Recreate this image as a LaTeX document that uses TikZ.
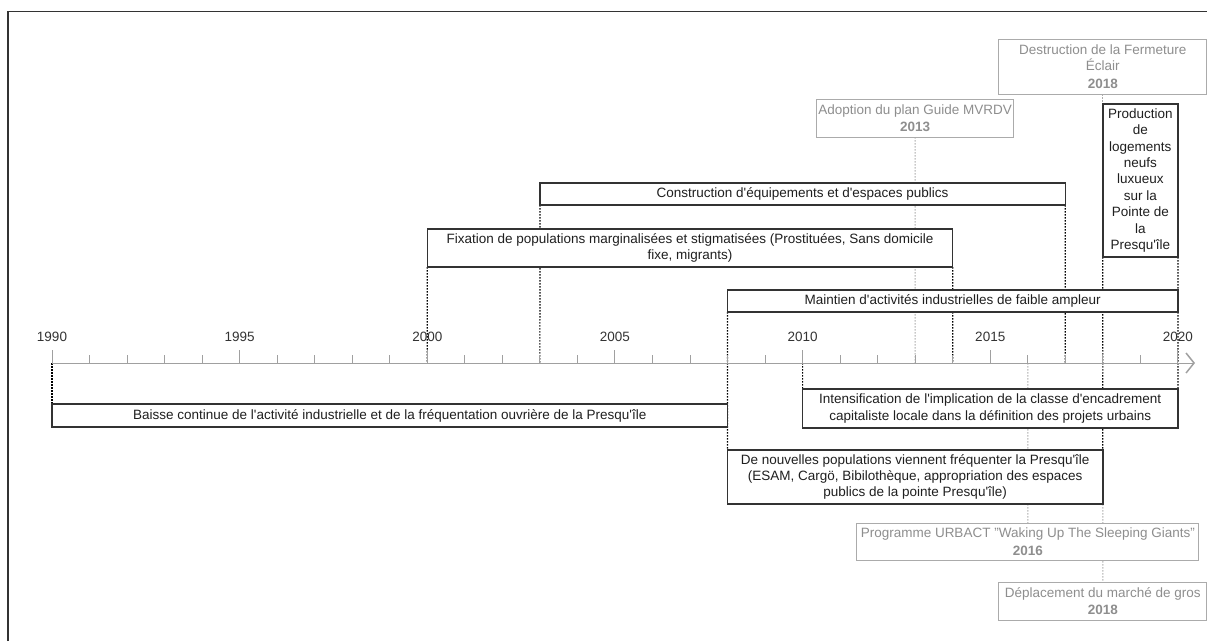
\documentclass[tikz,border=0pt]{standalone}
\usepackage{fontspec}
\setmainfont{Liberation Sans}
\usetikzlibrary{arrows.meta,backgrounds}
\definecolor{boxline}{HTML}{333333}
\definecolor{mileline}{HTML}{ABABAB}
\definecolor{miletext}{HTML}{8E8E8E}
\definecolor{axisgray}{HTML}{A0A0A0}
\newcommand\ap{\textquotesingle}

\begin{document}
\begin{tikzpicture}[x=1pt, y=-1pt,
    every node/.style={font=\fontsize{13.5}{16.4}\selectfont, inner sep=0pt, outer sep=0pt},
    period/.style={draw=boxline, line width=1.5pt, fill=white, align=center, text=black!88},
    milestone/.style={draw=mileline, line width=1pt, fill=white, align=center, text=miletext},
    tie/.style={black, line width=1.2pt, dash pattern=on 1.5pt off 1.5pt},
    greytie/.style={tie, draw=mileline, line width=1pt},
    axtick/.style={axisgray, line width=1pt},
    yearlbl/.style={text=black!80}]

    \useasboundingbox (0,0) rectangle (1207,641);

    % Frame
    \draw[boxline, line width=1.5pt] (8,641) -- (8,11.5) -- (1207,11.5);

    % Axis
    \foreach \y in {1990,...,2020}
        \coordinate (t\y) at ({52+37.53*(\y-1990)},363);
    \coordinate (axisend) at (1195,363);
    \draw[axisgray, line width=1pt, -{Straight Barb[length=8pt,width=20pt,line width=1.5pt]}] (t1990) -- (axisend);

    % Ticks and years
    \foreach \y in {1991,...,2019} \draw[axtick] (t\y) -- ++(0,-8);
    \foreach \y in {1990,1995,...,2020} {
        \draw[axtick] (t\y) -- ++(0,-13);
        \node[yearlbl] (lab\y) at ({52+37.53*(\y-1990)},337) {\y};
    }

    % Periods
    \node[period, minimum width=525.4pt, minimum height=22pt] (constr) at (802.6,194)
        {Construction d\ap{}équipements et d\ap{}espaces publics};
    \node[period, minimum width=525.4pt, minimum height=38pt] (fix) at (690,248)
        {Fixation de populations marginalisées et stigmatisées (Prostituées, Sans domicile\\fixe, migrants)};
    \node[period, minimum width=450.4pt, minimum height=22pt] (maint) at (952.7,301)
        {Maintien d\ap{}activités industrielles de faible ampleur};
    \node[period, minimum width=75.1pt, minimum height=153pt] (prod) at (1140.35,180.5)
        {Production\\de\\logements\\neufs\\luxueux\\sur la\\Pointe de\\la\\Presqu\ap{}île};
    \node[period, minimum width=675.5pt, minimum height=23pt] (baisse) at (389.75,415.5)
        {Baisse continue de l\ap{}activité industrielle et de la fréquentation ouvrière de la Presqu\ap{}île};
    \node[period, minimum width=375.3pt, minimum height=39pt] (intens) at (990.25,408.5)
        {Intensification de l\ap{}implication de la classe d\ap{}encadrement\\capitaliste locale dans la définition des projets urbains};
    \node[period, minimum width=375.3pt, minimum height=54pt] (nouv) at (915.15,477)
        {De nouvelles populations viennent fréquenter la Presqu\ap{}île\\(ESAM, Cargö, Bibilothèque, appropriation des espaces\\publics de la pointe Presqu\ap{}île)};

    % Milestones
    \node[milestone, minimum width=197pt, minimum height=38pt] (adopt) at (915.2,118)
        {Adoption du plan Guide MVRDV\\[1pt]\textbf{2013}};
    \node[milestone, minimum width=208pt, minimum height=55pt] (destr) at (1102.8,66.5)
        {Destruction de la Fermeture\\Éclair\\[1pt]\textbf{2018}};
    \node[milestone, minimum width=342pt, minimum height=37pt] (urbact) at (1027.8,541.5)
        {Programme URBACT "Waking Up The Sleeping Giants"\\[1pt]\textbf{2016}};
    \node[milestone, minimum width=208pt, minimum height=38pt] (deplac) at (1102.8,601)
        {Déplacement du marché de gros\\[1pt]\textbf{2018}};

    % Dotted ties to the axis
    \begin{pgfonlayer}{background}
        \draw[tie] (t1990) -- (baisse.north west);
        \draw[tie] (fix.south west) -- (t2000);
        \draw[tie] (constr.south west) -- (t2003);
        \draw[tie] (maint.south west) -- (t2008);
        \draw[tie] (t2008) -- (nouv.north west);
        \draw[tie] (t2010) -- (intens.north west);
        \draw[greytie] (adopt.south) -- (t2013);
        \draw[tie] (fix.south east) -- (t2014);
        \draw[greytie] (t2016) -- (urbact.north);
        \draw[tie] (constr.south east) -- (t2017);
        \draw[greytie] (destr.south) -- (prod.north west);
        \draw[tie] (prod.south west) -- (t2018);
        \draw[tie] (t2018) -- (nouv.north east);
        \draw[greytie] (nouv.south east) -- (deplac.north);
        \draw[tie] (prod.south east) -- (maint.north east);
        \draw[tie] (maint.south east) -- (t2020);
        \draw[tie] (t2020) -- (intens.north east);
    \end{pgfonlayer}
\end{tikzpicture}
\end{document}
